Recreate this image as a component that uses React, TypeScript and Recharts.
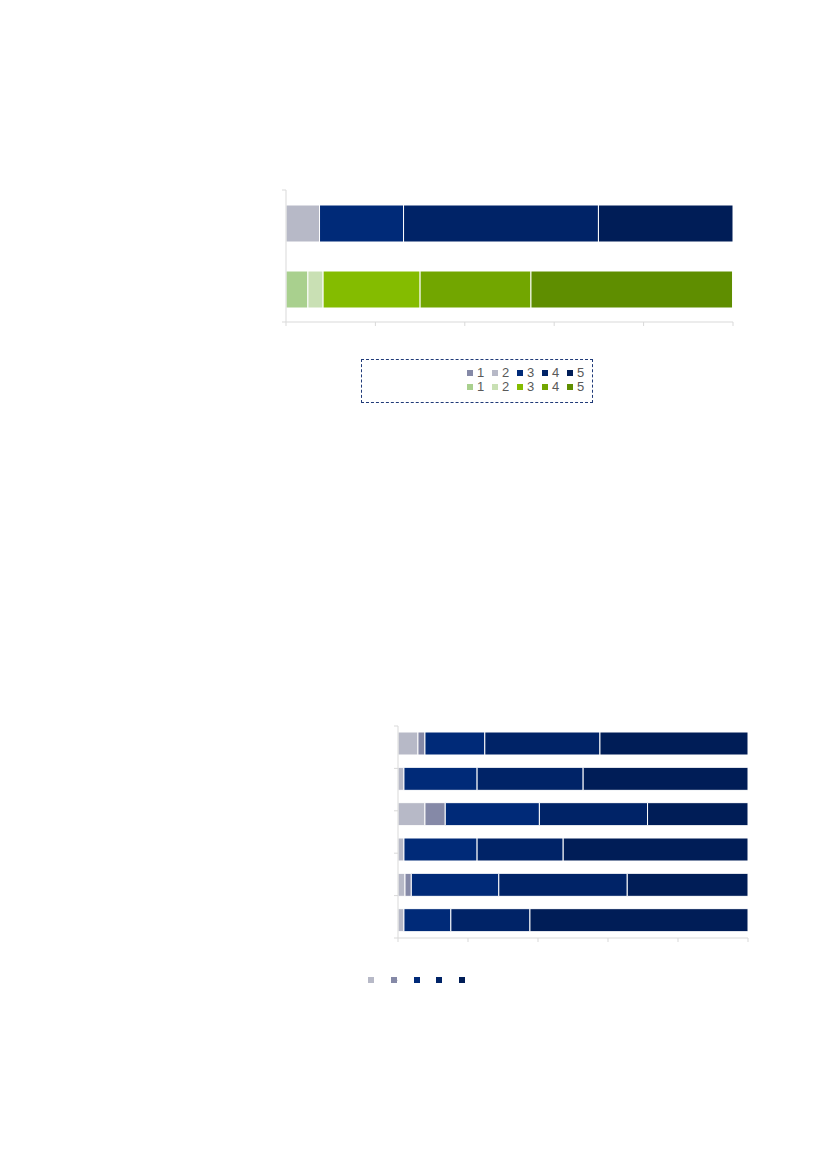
import React from "react";
import { Bar, BarChart, Legend, XAxis, YAxis } from "recharts";

// Top chart: two rows, one coloured in blues and one in greens
const topRows = ["A", "B"];
const topLabels = ["1", "2", "3", "4", "5"];
const topBlue = [0, 7.5, 18.8, 43.6, 30.1];
const topGreen = [4.9, 3.4, 21.7, 24.8, 45.1];

// Bottom chart: six rows, light grey first then darker grey then the blues
const bottomRows = ["R1", "R2", "R3", "R4", "R5", "R6"];
const bottomS1 = [5.7, 1.7, 7.7, 1.7, 2.0, 1.7];
const bottomS2 = [2.0, 0, 5.8, 0, 1.8, 0];
const bottomS3 = [17.1, 20.9, 26.9, 20.9, 25.0, 13.4];
const bottomS4 = [32.9, 30.3, 30.9, 24.6, 36.7, 22.6];
const bottomS5 = [42.3, 47.1, 28.8, 52.8, 34.5, 62.3];

const pctTicks = [0, 20, 40, 60, 80, 100];

const blueColors = ["#8589a7", "#b7b9c7", "#002a78", "#002367", "#001d57"];
const greenColors = ["#a9d08e", "#c9e0b4", "#84bc00", "#72a600", "#5f8e00"];
const bottomColors = ["#b7b9c7", "#8589a7", "#002a78", "#002367", "#001d57"];

const AXIS = "#d9d9d9";
const FONT = "'Liberation Sans', Arial, sans-serif";
const blank = () => "";

const topData = topRows.map((name, i) => {
  const row: Record<string, string | number> = { name };
  topLabels.forEach((_, k) => {
    row[`b${k}`] = i === 0 ? topBlue[k] : 0;
    row[`g${k}`] = i === 1 ? topGreen[k] : 0;
  });
  return row;
});

const bottomSeries = [bottomS1, bottomS2, bottomS3, bottomS4, bottomS5];
const bottomData = bottomRows.map((name, i) => {
  const row: Record<string, string | number> = { name };
  bottomSeries.forEach((s, k) => {
    row[`s${k}`] = s[i];
  });
  return row;
});

function Swatch({ color, size = 6 }: { color: string; size?: number }) {
  return <span style={{ display: "inline-block", width: size, height: size, background: color, marginRight: 4 }} />;
}

function TopLegend() {
  const rows = [blueColors, greenColors];
  return (
    <div
      style={{
        width: 232,
        height: 44,
        border: "1px dashed #1f3a78",
        boxSizing: "border-box",
        paddingTop: 6,
        paddingLeft: 105,
        fontFamily: FONT,
        fontSize: 13,
        color: "#595959",
      }}
    >
      {rows.map((colors, r) => (
        <div key={r} style={{ display: "flex", height: 14, lineHeight: "14px", alignItems: "center" }}>
          {topLabels.map((label, k) => (
            <span key={label} style={{ display: "inline-flex", alignItems: "center", width: 25.6 }}>
              <Swatch color={colors[k]} />
              {label}
            </span>
          ))}
        </div>
      ))}
    </div>
  );
}

function BottomLegend() {
  return (
    <div style={{ display: "flex", alignItems: "center", height: 8 }}>
      {bottomColors.map((c) => (
        <span key={c} style={{ display: "inline-flex", width: 22.8 }}>
          <Swatch color={c} />
        </span>
      ))}
    </div>
  );
}

const rowTicks = (n: number) => Array.from({ length: n + 1 }, (_, i) => i);

export default function App() {
  return (
    <div style={{ position: "absolute", left: 0, top: 0, width: 827, height: 1169, background: "#fff" }}>
      <div style={{ position: "absolute", left: 0, top: 0 }}>
        <BarChart
          width={827}
          height={420}
          layout="vertical"
          data={topData}
          margin={{ top: 190, right: 94, bottom: 88, left: 276 }}
        >
          <XAxis
            type="number"
            domain={[0, 100]}
            ticks={pctTicks}
            allowDataOverflow
            tickFormatter={blank}
            tickSize={4}
            height={10}
            axisLine={{ stroke: AXIS }}
            tickLine={{ stroke: AXIS }}
          />
          <YAxis yAxisId="cat" type="category" dataKey="name" orientation="right" hide />
          <YAxis
            yAxisId="grid"
            type="number"
            domain={[0, topRows.length]}
            ticks={rowTicks(topRows.length)}
            allowDataOverflow
            tickFormatter={blank}
            tickSize={4}
            width={10}
            axisLine={{ stroke: AXIS }}
            tickLine={{ stroke: AXIS }}
          />
          {topLabels.map((l, k) => (
            <Bar key={`b${k}`} dataKey={`b${k}`} yAxisId="cat" stackId="s" fill={blueColors[k]} stroke="#fff" strokeWidth={1} barSize={37} isAnimationActive={false} />
          ))}
          {topLabels.map((l, k) => (
            <Bar key={`g${k}`} dataKey={`g${k}`} yAxisId="cat" stackId="s" fill={greenColors[k]} stroke="#fff" strokeWidth={1} barSize={37} isAnimationActive={false} />
          ))}
          <Legend
            verticalAlign="middle"
            align="center"
            content={() => <TopLegend />}
            wrapperStyle={{ left: 361, top: 359, width: 232, height: 44 }}
          />
        </BarChart>
      </div>

      <div style={{ position: "absolute", left: 0, top: 600 }}>
        <BarChart
          width={827}
          height={420}
          layout="vertical"
          data={bottomData}
          margin={{ top: 126, right: 79, bottom: 72, left: 388 }}
        >
          <XAxis
            type="number"
            domain={[0, 100]}
            ticks={pctTicks}
            allowDataOverflow
            tickFormatter={blank}
            tickSize={4}
            height={10}
            axisLine={{ stroke: AXIS }}
            tickLine={{ stroke: AXIS }}
          />
          <YAxis yAxisId="cat" type="category" dataKey="name" orientation="right" hide />
          <YAxis
            yAxisId="grid"
            type="number"
            domain={[0, bottomRows.length]}
            ticks={rowTicks(bottomRows.length)}
            allowDataOverflow
            tickFormatter={blank}
            tickSize={4}
            width={10}
            axisLine={{ stroke: AXIS }}
            tickLine={{ stroke: AXIS }}
          />
          {bottomSeries.map((_, k) => (
            <Bar key={`s${k}`} dataKey={`s${k}`} yAxisId="cat" stackId="s" fill={bottomColors[k]} stroke="#fff" strokeWidth={1} barSize={23} isAnimationActive={false} />
          ))}
          <Legend
            verticalAlign="middle"
            align="center"
            content={() => <BottomLegend />}
            wrapperStyle={{ left: 368, top: 376, width: 120, height: 8 }}
          />
        </BarChart>
      </div>
    </div>
  );
}
